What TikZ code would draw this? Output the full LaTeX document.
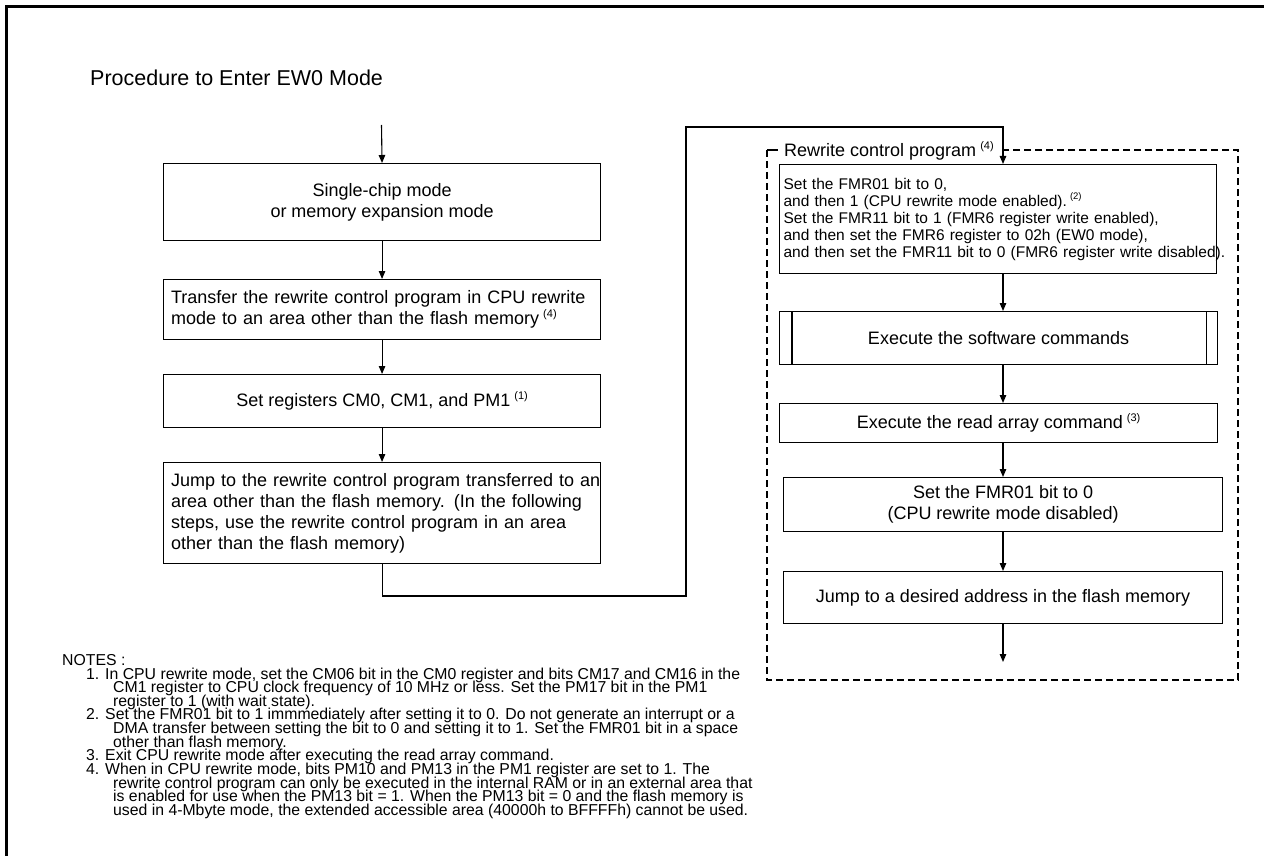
\documentclass[tikz,border=0pt]{standalone}
\usepackage{fontspec}
\setmainfont{Liberation Sans}
\usetikzlibrary{arrows.meta}
\newcommand\fsz[2]{\fontsize{#1pt}{#2pt}\selectfont}
\newcommand\fnref[1]{\kern4pt\raisebox{0.4em}{\fsz{11}{11}(#1)}}
\newcommand\fnrefs[1]{\kern3pt\raisebox{0.4em}{\fsz{9.5}{9.5}(#1)}}
\newcommand\notefont{\fsz{15.8}{13.6}\lineskiplimit=-30pt\relax}
\tikzset{
  box/.style={draw, line width=1.1pt, anchor=north west, inner sep=0pt, font=\fsz{18}{21}, align=center},
  lbox/.style={box, align=left, text width=422pt, inner xsep=7.5pt},
  flow/.style={line width=1.1pt, -{Triangle[length=8pt,width=6.5pt]}},
  dframe/.style={line width=2.2pt, dash pattern=on 7pt off 4pt},
  note/.style={anchor=base west, inner sep=0pt, align=left, font=\notefont},
}
\begin{document}
\begin{tikzpicture}[x=1pt,y=-1pt]
\useasboundingbox (0,0) rectangle (1264,856);
\fill[white] (0,0) rectangle (1264,856);
% outer frame
\draw[line width=3.3pt] (6.5,856) -- (6.5,6.5) -- (1264,6.5);
% title
\node[anchor=base west, inner sep=0pt, font=\fsz{21.5}{24}] (title) at (90,86) {Procedure to Enter EW0 Mode};

% left column
\coordinate (start) at (381.5,125);
\node[box, minimum width=437pt, minimum height=77pt] (b1) at (163,163) {Single-chip mode\\or memory expansion mode};
\node[lbox, minimum height=60pt] (b2) at (163,279) {\mbox{Transfer the rewrite control program in CPU rewrite}\\mode to an area other than the flash memory\fnref{4}};
\node[box, minimum width=437pt, minimum height=53pt] (b3) at (163,374) {Set registers CM0, CM1, and PM1\fnref{1}};
\node[lbox, minimum height=101pt] (b4) at (163,462) {\mbox{Jump to the rewrite control program transferred to an}\\\mbox{area other than the flash memory. (In the following}\\steps, use the rewrite control program in an area\\other than the flash memory)};
\draw[flow] (start) -- (b1.north);
\draw[flow] (b1.south) -- (b2.north);
\draw[flow] (b2.south) -- (b3.north);
\draw[flow] (b3.south) -- (b4.north);

% dashed frame
\coordinate (fa) at (767,150);
\coordinate (fb) at (1238,680);
\draw[dframe] (fa) rectangle (fb);
\draw[line width=2.2pt] (767,150) -- (778,150);
\node[fill=white, inner xsep=6pt, inner ysep=1pt, anchor=base west, font=\fsz{18}{21}] (lab) at (778,157) {Rewrite control program\fnref{4}};

% right column
\coordinate (c1) at (686,596);
\coordinate (c2) at (1003,127);
\node[box, font=\fsz{15.5}{17}, align=left, text width=429pt, inner xsep=4pt, minimum height=109pt] (r1) at (779,164) {Set the FMR01 bit to 0,\\and then 1 (CPU rewrite mode enabled).\fnrefs{2}\\Set the FMR11 bit to 1 (FMR6 register write enabled),\\and then set the FMR6 register to 02h (EW0 mode),\\\mbox{and then set the FMR11 bit to 0 (FMR6 register write disabled).}};
\node[box, minimum width=438pt, minimum height=53pt] (r2) at (779,311) {Execute the software commands};
\draw[line width=1.1pt] ([xshift=13pt]r2.north west) -- ([xshift=13pt]r2.south west);
\draw[line width=1.1pt] ([xshift=-12pt]r2.north east) -- ([xshift=-12pt]r2.south east);
\node[box, minimum width=438pt, minimum height=39pt] (r3) at (779,403) {Execute the read array command\fnref{3}};
\node[box, minimum width=439pt, minimum height=54pt] (r4) at (783,477) {Set the FMR01 bit to 0\\(CPU rewrite mode disabled)};
\node[box, minimum width=439pt, minimum height=52pt] (r5) at (783,571) {Jump to a desired address in the flash memory};
\coordinate (endpt) at (1003,662);

\draw[flow] (b4.south) |- (c1) |- (c2) -- (c2 |- r1.north);
\draw[flow] (r1.south -| c2) -- (r2.north -| c2);
\draw[flow] (r2.south -| c2) -- (r3.north -| c2);
\draw[flow] (r3.south -| c2) -- (r4.north -| c2);
\draw[flow] (r4.south -| c2) -- (r5.north -| c2);
\draw[flow] (r5.south -| c2) -- (endpt);

% notes (base anchor = baseline of the last line)
\node[anchor=base west, inner sep=0pt, font=\notefont] (notes) at (62,665) {NOTES :};
\node[note] (n1) at (86,706.2) {1. In CPU rewrite mode, set the CM06 bit in the CM0 register and bits CM17 and CM16 in the\\\hspace*{27pt}CM1 register to CPU clock frequency of 10 MHz or less. Set the PM17 bit in the PM1\\\hspace*{27pt}register to 1 (with wait state).};
\node[note] (n2) at (86,747) {2. Set the FMR01 bit to 1 immmediately after setting it to 0. Do not generate an interrupt or a\\\hspace*{27pt}DMA transfer between setting the bit to 0 and setting it to 1. Set the FMR01 bit in a space\\\hspace*{27pt}other than flash memory.};
\node[note] (n3) at (86,760.6) {3. Exit CPU rewrite mode after executing the read array command.};
\node[note] (n4) at (86,815.4) {4. When in CPU rewrite mode, bits PM10 and PM13 in the PM1 register are set to 1. The\\\hspace*{27pt}rewrite control program can only be executed in the internal RAM or in an external area that\\\hspace*{27pt}is enabled for use when the PM13 bit = 1. When the PM13 bit = 0 and the flash memory is\\\hspace*{27pt}used in 4-Mbyte mode, the extended accessible area (40000h to BFFFFh) cannot be used.};
\end{tikzpicture}
\end{document}
